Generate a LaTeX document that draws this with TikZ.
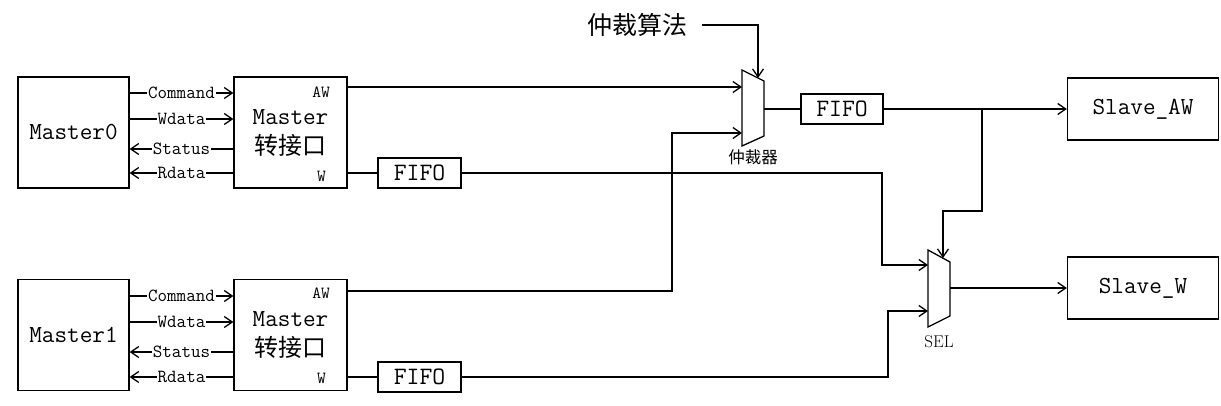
\documentclass[tikz,border=0pt]{standalone}
\usepackage{fontspec}
\newfontfamily\cjk{Noto Sans CJK SC}
\usetikzlibrary{arrows.meta,positioning}

\begin{document}
\begin{tikzpicture}[
  x=1pt, y=-1pt,
  line width=1.3pt,
  every node/.style={align=center, inner sep=0pt},
  mbox/.style={draw, minimum width=111pt, minimum height=111pt, font=\ttfamily\fontsize{24.5}{30}\selectfont},
  fifo/.style={draw, minimum width=83pt, minimum height=30pt, font=\ttfamily\fontsize{25}{26}\selectfont},
  slave/.style={draw, minimum width=151pt, minimum height=62pt, font=\ttfamily\fontsize{24.5}{26}\selectfont},
  sig/.style={fill=white, inner xsep=1pt, font=\ttfamily\fontsize{18.5}{20}\selectfont},
  port/.style={anchor=east, font=\ttfamily\fontsize{17}{18}\selectfont},
  zh/.style={font=\cjk\fontsize{#1}{#1}\selectfont},
  arr/.style={-{Straight Barb[length=8pt,width=11pt]}}
]
\useasboundingbox (0,0) rectangle (1221,405);

% masters and interfaces
\node[mbox] (m0) at (73.5,132.5) {Master0};
\node[mbox, minimum width=113pt] (if0) at (290.5,132.5) {Master\\{\cjk\fontsize{24}{30}\selectfont 转接口}};
\node[mbox] (m1) at (73.5,335) {Master1};
\node[mbox, minimum width=113pt] (if1) at (290.5,335) {Master\\{\cjk\fontsize{24}{30}\selectfont 转接口}};
\node[port] (aw0) at ([xshift=-17pt, yshift=40.5pt]if0.east) {AW};
\node[port] (w0) at ([xshift=-21pt, yshift=-44pt]if0.east) {W};
\node[port] (aw1) at ([xshift=-17pt, yshift=42pt]if1.east) {AW};
\node[port] (w1) at ([xshift=-21pt, yshift=-43pt]if1.east) {W};

% fifos and slaves
\node[fifo] (fifo0) at (419.5,173) {FIFO};
\node[fifo] (fifo1) at (419.5,377) {FIFO};
\node[fifo, minimum width=82pt] (fifoaw) at (842,109) {FIFO};
\node[slave] (slaveaw) at (1143,109) {Slave\_AW};
\node[slave] (slavew) at (1143,288) {Slave\_W};

% arbiter
\draw (742,70) -- (764,81) -- (764,136) -- (742,146) -- cycle;
\coordinate (arbin1) at (742,87);
\coordinate (arbin2) at (742,133);
\coordinate (arbout) at (764,109);
\coordinate (arbtop) at (758,78);
\node[zh=16.5] (arblbl) at (753,157) {仲裁器};
\node[zh=25] (alg) at (637.5,25) {仲裁算法};

% select
\draw (928,250) -- (950,262) -- (950,316) -- (928,327) -- cycle;
\coordinate (selin1) at (928,265);
\coordinate (selin2) at (928,311);
\coordinate (selout) at (950,288);
\coordinate (seltop) at (943,258);
\node[font=\rmfamily\fontsize{17}{18}\selectfont] (sellbl) at (939,342) {SEL};

% master signals
\draw[arr] ([yshift=39.5pt]m0.east) -- node[sig] {Command} ([yshift=39.5pt]if0.west);
\draw[arr] ([yshift=13.5pt]m0.east) -- node[sig] {Wdata} ([yshift=13.5pt]if0.west);
\draw[arr] ([yshift=-16.5pt]if0.west) -- node[sig] {Status} ([yshift=-16.5pt]m0.east);
\draw[arr] ([yshift=-40.5pt]if0.west) -- node[sig] {Rdata} ([yshift=-40.5pt]m0.east);
\draw[arr] ([yshift=39pt]m1.east) -- node[sig] {Command} ([yshift=39pt]if1.west);
\draw[arr] ([yshift=13pt]m1.east) -- node[sig] {Wdata} ([yshift=13pt]if1.west);
\draw[arr] ([yshift=-17pt]if1.west) -- node[sig] {Status} ([yshift=-17pt]m1.east);
\draw[arr] ([yshift=-42pt]if1.west) -- node[sig] {Rdata} ([yshift=-42pt]m1.east);

% AW path
\draw[arr] ([yshift=45.5pt]if0.east) -- (arbin1);
\draw[arr] ([yshift=44pt]if1.east) -| ([xshift=-70pt]arbin2) -- (arbin2);
\draw[arr] ([xshift=14pt]alg.east) -| (arbtop);
\draw (arbout) -- (fifoaw.west);
\draw[arr] (fifoaw.east) -- (slaveaw.west);
\coordinate (br) at (982,109);
\draw[arr] (br) |- ([yshift=47pt]seltop) -- (seltop);

% W path
\draw ([yshift=-40.5pt]if0.east) -- (fifo0.west);
\draw ([yshift=-42pt]if1.east) -- (fifo1.west);
\draw[arr] (fifo0.east) -| ([xshift=-46pt]selin1) -- (selin1);
\draw[arr] (fifo1.east) -| ([xshift=-40pt]selin2) -- (selin2);
\draw[arr] (selout) -- (slavew.west);
\end{tikzpicture}
\end{document}
